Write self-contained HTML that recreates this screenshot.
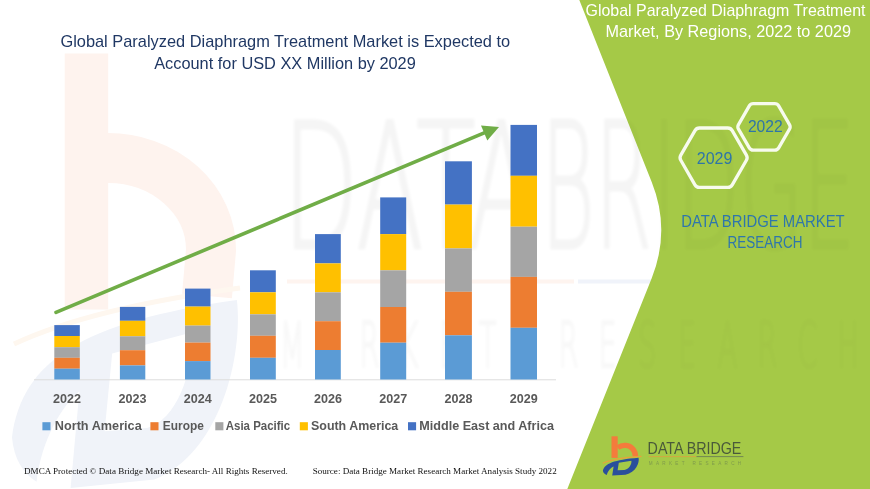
<!DOCTYPE html>
<html><head><meta charset="utf-8"><title>Global Paralyzed Diaphragm Treatment Market</title>
<style>
html,body{margin:0;padding:0;background:#fff;}
body{width:870px;height:489px;overflow:hidden;}
svg{display:block;}
.sans{font-family:"Liberation Sans",sans-serif;}
.serif{font-family:"Liberation Serif",serif;}
</style></head><body>
<svg width="870" height="489" viewBox="0 0 870 489">
<rect width="870" height="489" fill="#ffffff"/>
<!-- WATERMARK -->
<g id="wm">
<rect x="64.7" y="53.5" width="43.5" height="256" fill="#FEF3EE"/>
<path d="M108,158 A103,92 0 0 1 211,250 L207,296" fill="none" stroke="#FEF3EE" stroke-width="50"/>
<path d="M14,344 C70,318 150,300 240,288" fill="none" stroke="#FEF7EF" stroke-width="5"/>
<g transform="translate(12,300) scale(6.3,10.5) translate(-602.9,-457.7)">
<path fill-rule="evenodd" fill="#F0F3F9" d="M602.9,470.8 C604.5,463.5 614,459.8 638.6,457.7 C639.6,463 636,472.3 625.5,474.8 L612.2,475.6 L613.6,466.4 C610.8,467.8 607.6,471 606.8,475 C604.6,474.2 603.2,472.8 602.9,470.8 Z M618.8,462.8 L631.4,460.8 C631.8,464.5 629,469.2 624.3,469.9 L617.6,470.2 Z"/>
</g>
<line x1="287" y1="281.5" x2="574" y2="281.5" stroke="#FEF4EF" stroke-width="4"/>
<line x1="578" y1="281.5" x2="870" y2="281.5" stroke="#F0F3FA" stroke-width="4"/>
</g>
<!-- green panel -->
<path d="M579.3,0 L651.7,182 Q670.9,230.1 651.7,278.2 L567.3,489 L870,489 L870,0 Z" fill="#A5C947"/>
<defs>
<clipPath id="cw"><path d="M0,0 L579.3,0 L651.7,182 Q670.9,230.1 651.7,278.2 L567.3,489 L0,489 Z"/></clipPath>
<clipPath id="cg"><path d="M579.3,0 L651.7,182 Q670.9,230.1 651.7,278.2 L567.3,489 L870,489 L870,0 Z"/></clipPath>
<filter id="bl" x="-5%" y="-5%" width="110%" height="110%"><feGaussianBlur stdDeviation="1.6"/></filter>
<g id="wmt" font-family="'DejaVu Sans',sans-serif" font-weight="200" fill="#000000" stroke="#000000" filter="url(#bl)">
<text y="248" font-size="175" stroke-width="3.2"><tspan x="283" textLength="252" lengthAdjust="spacingAndGlyphs">DATA</tspan><tspan dx="-30"> </tspan><tspan x="541" textLength="314" lengthAdjust="spacingAndGlyphs">BRIDGE</tspan></text>
<text transform="scale(0.46,1)" x="608.7 695.2 781.7 868.3 954.8 1041.3 1127.8 1214.3 1300.9 1387.4 1473.9 1560.4 1647.0 1733.5 1820.0" y="367" font-size="62" stroke-width="3" opacity="0.7">MARKET RESEARCH</text>
</g>
</defs>
<g clip-path="url(#cw)"><use href="#wmt" opacity="0.042"/></g>
<g clip-path="url(#cg)"><use href="#wmt" opacity="0.022"/></g>
<!-- axis line -->
<line x1="34" y1="379.8" x2="556" y2="379.8" stroke="#DCDCDC" stroke-width="1"/>
<!-- bars -->
<rect x="54.3" y="325.1" width="25.5" height="10.9" fill="#4472C4"/>
<rect x="54.3" y="336.0" width="25.5" height="11.2" fill="#FFC000"/>
<rect x="54.3" y="347.2" width="25.5" height="10.6" fill="#A5A5A5"/>
<rect x="54.3" y="357.8" width="25.5" height="10.9" fill="#ED7D31"/>
<rect x="54.3" y="368.7" width="25.5" height="10.8" fill="#5B9BD5"/>
<rect x="119.9" y="306.9" width="25.4" height="13.9" fill="#4472C4"/>
<rect x="119.9" y="320.8" width="25.4" height="15.5" fill="#FFC000"/>
<rect x="119.9" y="336.3" width="25.4" height="13.9" fill="#A5A5A5"/>
<rect x="119.9" y="350.2" width="25.4" height="15.2" fill="#ED7D31"/>
<rect x="119.9" y="365.4" width="25.4" height="14.1" fill="#5B9BD5"/>
<rect x="185.0" y="288.6" width="25.5" height="18.0" fill="#4472C4"/>
<rect x="185.0" y="306.6" width="25.5" height="19.0" fill="#FFC000"/>
<rect x="185.0" y="325.6" width="25.5" height="17.0" fill="#A5A5A5"/>
<rect x="185.0" y="342.6" width="25.5" height="18.5" fill="#ED7D31"/>
<rect x="185.0" y="361.1" width="25.5" height="18.4" fill="#5B9BD5"/>
<rect x="250.0" y="270.3" width="25.8" height="22.0" fill="#4472C4"/>
<rect x="250.0" y="292.3" width="25.8" height="22.0" fill="#FFC000"/>
<rect x="250.0" y="314.3" width="25.8" height="21.5" fill="#A5A5A5"/>
<rect x="250.0" y="335.8" width="25.8" height="22.0" fill="#ED7D31"/>
<rect x="250.0" y="357.8" width="25.8" height="21.7" fill="#5B9BD5"/>
<rect x="315.0" y="234.1" width="25.8" height="29.3" fill="#4472C4"/>
<rect x="315.0" y="263.4" width="25.8" height="28.9" fill="#FFC000"/>
<rect x="315.0" y="292.3" width="25.8" height="28.9" fill="#A5A5A5"/>
<rect x="315.0" y="321.2" width="25.8" height="28.8" fill="#ED7D31"/>
<rect x="315.0" y="350.0" width="25.8" height="29.5" fill="#5B9BD5"/>
<rect x="380.2" y="197.4" width="26.0" height="36.7" fill="#4472C4"/>
<rect x="380.2" y="234.1" width="26.0" height="36.2" fill="#FFC000"/>
<rect x="380.2" y="270.3" width="26.0" height="36.7" fill="#A5A5A5"/>
<rect x="380.2" y="307.0" width="26.0" height="35.7" fill="#ED7D31"/>
<rect x="380.2" y="342.7" width="26.0" height="36.8" fill="#5B9BD5"/>
<rect x="445.0" y="161.3" width="26.9" height="43.3" fill="#4472C4"/>
<rect x="445.0" y="204.6" width="26.9" height="43.8" fill="#FFC000"/>
<rect x="445.0" y="248.4" width="26.9" height="43.4" fill="#A5A5A5"/>
<rect x="445.0" y="291.8" width="26.9" height="43.5" fill="#ED7D31"/>
<rect x="445.0" y="335.3" width="26.9" height="44.2" fill="#5B9BD5"/>
<rect x="510.5" y="124.9" width="26.5" height="50.9" fill="#4472C4"/>
<rect x="510.5" y="175.8" width="26.5" height="50.9" fill="#FFC000"/>
<rect x="510.5" y="226.7" width="26.5" height="50.2" fill="#A5A5A5"/>
<rect x="510.5" y="276.9" width="26.5" height="50.9" fill="#ED7D31"/>
<rect x="510.5" y="327.8" width="26.5" height="51.7" fill="#5B9BD5"/>
<!-- arrow -->
<line x1="56" y1="312.3" x2="486" y2="132.2" stroke="#70AD47" stroke-width="3.6" stroke-linecap="round"/>
<polygon points="499,127.1 481.0,125.4 487.3,140.5" fill="#70AD47"/>
<!-- year labels -->
<g class="sans" font-size="13.2" font-weight="bold" fill="#595959">
<text x="67.0" y="403" text-anchor="middle" textLength="28" lengthAdjust="spacingAndGlyphs">2022</text>
<text x="132.6" y="403" text-anchor="middle" textLength="28" lengthAdjust="spacingAndGlyphs">2023</text>
<text x="197.8" y="403" text-anchor="middle" textLength="28" lengthAdjust="spacingAndGlyphs">2024</text>
<text x="262.9" y="403" text-anchor="middle" textLength="28" lengthAdjust="spacingAndGlyphs">2025</text>
<text x="327.9" y="403" text-anchor="middle" textLength="28" lengthAdjust="spacingAndGlyphs">2026</text>
<text x="393.2" y="403" text-anchor="middle" textLength="28" lengthAdjust="spacingAndGlyphs">2027</text>
<text x="458.4" y="403" text-anchor="middle" textLength="28" lengthAdjust="spacingAndGlyphs">2028</text>
<text x="523.8" y="403" text-anchor="middle" textLength="28" lengthAdjust="spacingAndGlyphs">2029</text>
</g>
<!-- legend -->
<g class="sans" font-size="13.4" font-weight="bold" fill="#595959">
<rect x="42.4" y="422.2" width="8.1" height="8.1" fill="#5B9BD5"/>
<text x="54.8" y="430.3" textLength="86.9" lengthAdjust="spacingAndGlyphs">North America</text>
<rect x="150.4" y="422.2" width="8.1" height="8.1" fill="#ED7D31"/>
<text x="162.8" y="430.3" textLength="41" lengthAdjust="spacingAndGlyphs">Europe</text>
<rect x="215.3" y="422.2" width="8.1" height="8.1" fill="#A5A5A5"/>
<text x="225.8" y="430.3" textLength="64.3" lengthAdjust="spacingAndGlyphs">Asia Pacific</text>
<rect x="299.8" y="422.2" width="8.1" height="8.1" fill="#FFC000"/>
<text x="311" y="430.3" textLength="87.3" lengthAdjust="spacingAndGlyphs">South America</text>
<rect x="408" y="422.2" width="8.1" height="8.1" fill="#4472C4"/>
<text x="419.3" y="430.3" textLength="134.7" lengthAdjust="spacingAndGlyphs">Middle East and Africa</text>
</g>
<!-- title -->
<g class="sans" font-size="16.2" fill="#203864">
<text x="60.4" y="47.2" textLength="449.8" lengthAdjust="spacingAndGlyphs">Global Paralyzed Diaphragm Treatment Market is Expected to</text>
<text x="154.2" y="69.1" textLength="261.6" lengthAdjust="spacingAndGlyphs">Account for USD XX Million by 2029</text>
</g>
<!-- right title -->
<g class="sans" font-size="16.6" fill="#ffffff">
<text x="585.5" y="15.5" textLength="280" lengthAdjust="spacingAndGlyphs">Global Paralyzed Diaphragm Treatment</text>
<text x="605.5" y="37.2" textLength="245.5" lengthAdjust="spacingAndGlyphs">Market, By Regions, 2022 to 2029</text>
</g>
<!-- hexagons -->
<g fill="none" stroke="#F7FBEE" stroke-width="3.3" stroke-linejoin="round">
<path d="M746.40,155.10 Q747.90,157.70 746.40,160.30 L732.25,184.81 Q730.75,187.40 727.75,187.40 L699.45,187.40 Q696.45,187.40 694.95,184.81 L680.80,160.30 Q679.30,157.70 680.80,155.10 L694.95,130.59 Q696.45,128.00 699.45,128.00 L727.75,128.00 Q730.75,128.00 732.25,130.59 Z"/>
<path d="M789.50,124.65 Q790.80,126.90 789.50,129.15 L778.70,147.86 Q777.40,150.11 774.80,150.11 L753.20,150.11 Q750.60,150.11 749.30,147.86 L738.50,129.15 Q737.20,126.90 738.50,124.65 L749.30,105.94 Q750.60,103.69 753.20,103.69 L774.80,103.69 Q777.40,103.69 778.70,105.94 Z"/>
</g>
<g class="sans" font-size="16" fill="#2E75A8">
<text x="696.8" y="163.6" textLength="35.6" lengthAdjust="spacingAndGlyphs">2029</text>
<text x="747.9" y="132.4" textLength="34.8" lengthAdjust="spacingAndGlyphs">2022</text>
</g>
<g class="sans" font-size="16" fill="#2E76AC">
<text x="681.2" y="226.9" textLength="163.4" lengthAdjust="spacingAndGlyphs">DATA BRIDGE MARKET</text>
<text x="727.6" y="248.1" textLength="74.8" lengthAdjust="spacingAndGlyphs">RESEARCH</text>
</g>
<!-- footer -->
<g class="serif" font-size="9" fill="#111111">
<text x="24" y="474" textLength="263.7" lengthAdjust="spacingAndGlyphs">DMCA Protected © Data Bridge Market Research- All Rights Reserved.</text>
<text x="312.7" y="474.3" textLength="244" lengthAdjust="spacingAndGlyphs">Source: Data Bridge Market Research Market Analysis Study 2022</text>
</g>
<!-- logo -->
<g id="logo">
<!-- orange b -->
<rect x="611.5" y="436.3" width="6.2" height="21.6" fill="#F47B3C"/>
<path d="M617.7,447.6 C620.5,445.6 623.5,445.2 625.9,445.4 C631.5,445.9 635.6,450.5 635.4,456.6" fill="none" stroke="#F47B3C" stroke-width="5.4"/>
<!-- thin swoosh -->
<path d="M602.8,463.2 C612,459 626,457.4 641.5,456.4" fill="none" stroke="#E9A23B" stroke-width="1.1"/>
<!-- blue D -->
<path fill-rule="evenodd" fill="#2A4F9C" d="M602.9,470.8 C604.5,463.5 614,459.8 638.6,457.7 C639.6,463 636,472.3 625.5,474.8 L612.2,475.6 L613.6,466.4 C610.8,467.8 607.6,471 606.8,475 C604.6,474.2 603.2,472.8 602.9,470.8 Z M618.8,462.8 L631.4,460.8 C631.8,464.5 629,469.2 624.3,469.9 L617.6,470.2 Z"/>
<g class="sans">
<text x="647.6" y="454.3" font-size="16.7" fill="#4A5A3A" textLength="93.8" lengthAdjust="spacingAndGlyphs">DATA BRIDGE</text>
<line x1="648.6" y1="456.6" x2="696.5" y2="456.6" stroke="#D9A441" stroke-width="0.9"/>
<line x1="696.5" y1="456.6" x2="743.4" y2="456.6" stroke="#6C7F55" stroke-width="0.9"/>
<text x="648.8" y="464.8" font-size="4.6" fill="#7F9A4C" textLength="92.4" lengthAdjust="spacing">MARKET RESEARCH</text>
</g>
</g>
</svg>
</body></html>
